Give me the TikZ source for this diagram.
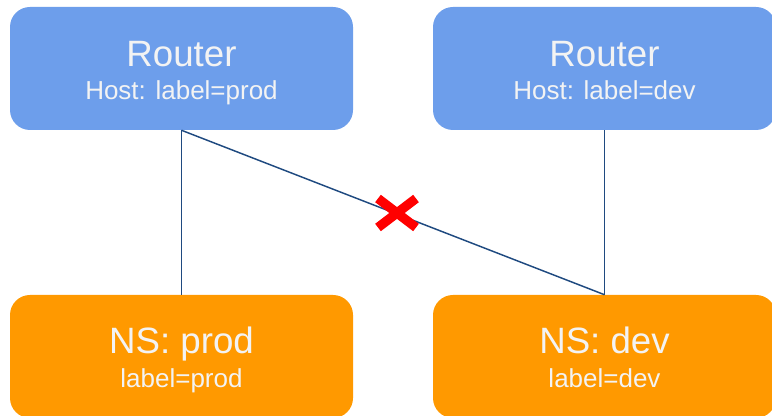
\documentclass[tikz,border=0pt]{standalone}
\usepackage{fontspec}
\setmainfont{Liberation Sans}
\definecolor{boxblue}{HTML}{6D9EEB}
\definecolor{boxorange}{HTML}{FF9900}
\definecolor{linkblue}{HTML}{1F4A80}
\definecolor{txtwhite}{HTML}{F3F3F3}
\definecolor{xred}{HTML}{FF0000}
\begin{document}
\begin{tikzpicture}[x=0.75pt,y=-0.75pt,
  card/.style={rounded corners=15pt, minimum width=257.25pt, minimum height=92.25pt, inner sep=0pt, draw=none},
  bluecard/.style={card, fill=boxblue},
  orangecard/.style={card, fill=boxorange},
  bigtxt/.style={anchor=base, inner sep=0pt, text=txtwhite, font=\fontsize{27.5}{33}\selectfont},
  smalltxt/.style={anchor=base, inner sep=0pt, text=txtwhite, font=\fontsize{19.5}{23}\selectfont},
  link/.style={draw=linkblue, line width=1.1pt},
  xstroke/.style={draw=xred, line width=7pt, line cap=butt}]
\useasboundingbox (0,0) rectangle (772,416);
\clip (0,0) rectangle (772,416);
\node[bluecard] (rprod) at (181.5,68.5) {};
\node[bluecard] (rdev) at (604.5,68.5) {};
\node[orangecard] (nprod) at (181.5,356.5) {};
\node[orangecard] (ndev) at (604.5,356.5) {};
\node[bigtxt] (rprodA) at (181.5,67) {Router};
\node[smalltxt] (rprodB) at (181.5,100) {Host: label=prod};
\node[bigtxt] (rdevA) at (604.5,67) {Router};
\node[smalltxt] (rdevB) at (604.5,100) {Host: label=dev};
\node[bigtxt] (nprodA) at (181.5,354) {NS: prod};
\node[smalltxt] (nprodB) at (181.5,388) {label=prod};
\node[bigtxt] (ndevA) at (604.5,354) {NS: dev};
\node[smalltxt] (ndevB) at (604.5,388) {label=dev};
\draw[link] (rprod.south) -- (nprod.north);
\draw[link] (rprod.south) -- (ndev.north);
\draw[link] (rdev.south) -- (ndev.north);
\coordinate (xmark) at (397,213);
\draw[xstroke] ([shift={(-19,-14.5)}]xmark) -- ([shift={(19,14.5)}]xmark);
\draw[xstroke] ([shift={(-19,14.5)}]xmark) -- ([shift={(19,-14.5)}]xmark);
\end{tikzpicture}
\end{document}
